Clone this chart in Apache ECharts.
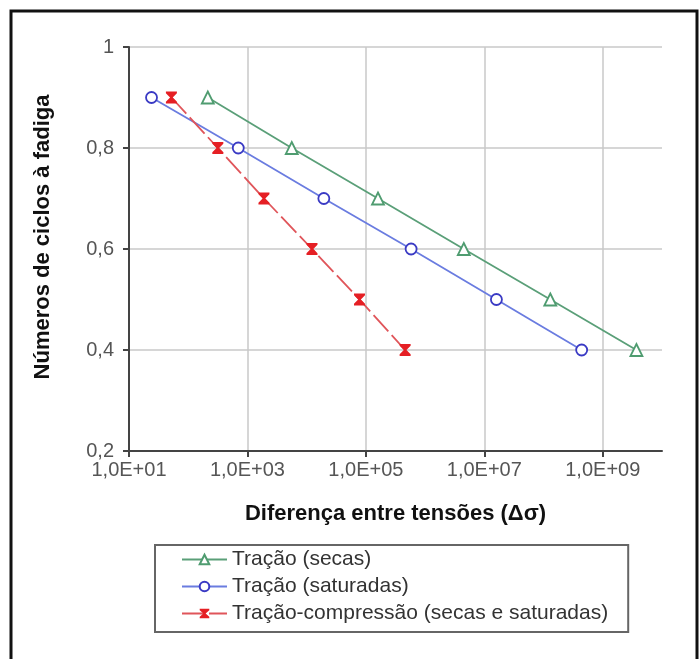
<!DOCTYPE html>
<html>
<head>
<meta charset="utf-8">
<script src="https://cdn.jsdelivr.net/npm/echarts@6/dist/echarts.min.js"></script>
<style>
  html, body { margin: 0; padding: 0; background: #fff; }
  #chart { width: 699px; height: 659px; }
</style>
</head>
<body>
<div id="chart"></div>
<script>
// ciclos (eixo y) e diferença de tensões (eixo x, log)
const yLevels = [0.9, 0.8, 0.7, 0.6, 0.5, 0.4];
const secasX = [214, 5600, 1.6e5, 4.5e6, 1.3e8, 3.7e9];
const saturadasX = [24, 700, 1.95e4, 5.8e5, 1.6e7, 4.4e8];
const compressaoX = [52, 316, 1900, 1.23e4, 7.8e4, 4.6e5];
const seriesNames = ['Tração (secas)', 'Tração (saturadas)', 'Tração-compressão (secas e saturadas)'];
// x tick labels at 1e1, 1e3, 1e5, 1e7, 1e9 (decades counted from 1e1)
const xTickDecades = [0, 2, 4, 6, 8];
const xTickLabels = ['1,0E+01', '1,0E+03', '1,0E+05', '1,0E+07', '1,0E+09'];

const font = "'Liberation Sans', Arial, sans-serif";

function pairs(xs) {
    let out = [];
    for (let i = 0; i < xs.length; i++) out.push([xs[i], yLevels[i]]);
    return out;
}

let option = {
    animation: false,
    backgroundColor: '#fff',
    textStyle: { fontFamily: font },
    graphic: [{
        type: 'rect',
        shape: { x: 11, y: 11, width: 686, height: 700 },
        style: { fill: 'none', stroke: '#111', lineWidth: 3 }
    }],
    grid: { left: 129, right: 37, top: 47, bottom: 208 },
    legend: {
        data: seriesNames,
        orient: 'vertical',
        left: 155,
        top: 545,
        padding: [4, 20, 8, 26],
        borderColor: '#666',
        borderWidth: 2,
        itemWidth: 45,
        itemHeight: 12,
        itemGap: 6,
        textStyle: { fontSize: 21, color: '#333', fontFamily: font }
    },
    xAxis: [{
        type: 'value',
        min: 0,
        max: 9,
        interval: 2,
        name: 'Diferença entre tensões (Δσ)',
        nameLocation: 'middle',
        nameGap: 52,
        nameTextStyle: { fontSize: 22, fontWeight: 'bold', color: '#111', fontFamily: font },
        axisLine: { show: true, lineStyle: { color: '#444', width: 2 } },
        axisTick: { show: true, length: 6, customValues: xTickDecades, lineStyle: { color: '#444', width: 2 } },
        axisLabel: {
            customValues: xTickDecades,
            fontSize: 20,
            color: '#555',
            margin: 9,
            formatter: function (v) {
                let i = xTickDecades.indexOf(v);
                return i >= 0 ? xTickLabels[i] : '';
            }
        },
        splitLine: { show: true, lineStyle: { color: '#c8c8c8', width: 1.5 } }
    }, {
        type: 'log',
        min: 10,
        max: 1e10,
        show: false
    }],
    yAxis: {
        type: 'value',
        min: 0.2,
        max: 1,
        interval: 0.2,
        name: 'Números de ciclos à fadiga',
        nameLocation: 'middle',
        nameGap: 75,
        nameTextStyle: { fontSize: 22, fontWeight: 'bold', color: '#111', fontFamily: font, padding: [0, 0, 0, 24] },
        axisLine: { show: true, lineStyle: { color: '#444', width: 2 } },
        axisTick: { show: true, length: 6, lineStyle: { color: '#444', width: 2 } },
        axisLabel: {
            fontSize: 20,
            color: '#555',
            margin: 15,
            formatter: function (v) {
                return String(Math.round(v * 10) / 10).replace('.', ',');
            }
        },
        splitLine: { show: true, lineStyle: { color: '#c8c8c8', width: 1.5 } }
    },
    series: [{
        name: seriesNames[0],
        type: 'line',
        xAxisIndex: 1,
        data: pairs(secasX),
        symbol: 'triangle',
        symbolSize: 12,
        itemStyle: { color: '#fff', borderColor: '#4f9c70', borderWidth: 1.8 },
        lineStyle: { color: '#5a9f78', width: 1.8 }
    }, {
        name: seriesNames[1],
        type: 'line',
        xAxisIndex: 1,
        data: pairs(saturadasX),
        smooth: 0.15,
        symbol: 'circle',
        symbolSize: 11,
        itemStyle: { color: '#fff', borderColor: '#3a3ac4', borderWidth: 1.8 },
        lineStyle: { color: '#6a7ce0', width: 1.8 }
    }, {
        name: seriesNames[2],
        type: 'line',
        xAxisIndex: 1,
        data: pairs(compressaoX),
        symbol: 'path://M0,0 L10,0 L10,1.5 L6.2,5 L10,8.5 L10,10 L0,10 L0,8.5 L3.8,5 L0,1.5 Z',
        symbolSize: [11, 12],
        itemStyle: { color: '#e51f24' },
        lineStyle: { color: '#e0555a', width: 1.8, type: [22, 5] }
    }]
};

let myChart = echarts.init(document.getElementById('chart'));
myChart.setOption(option);
</script>
</body>
</html>
